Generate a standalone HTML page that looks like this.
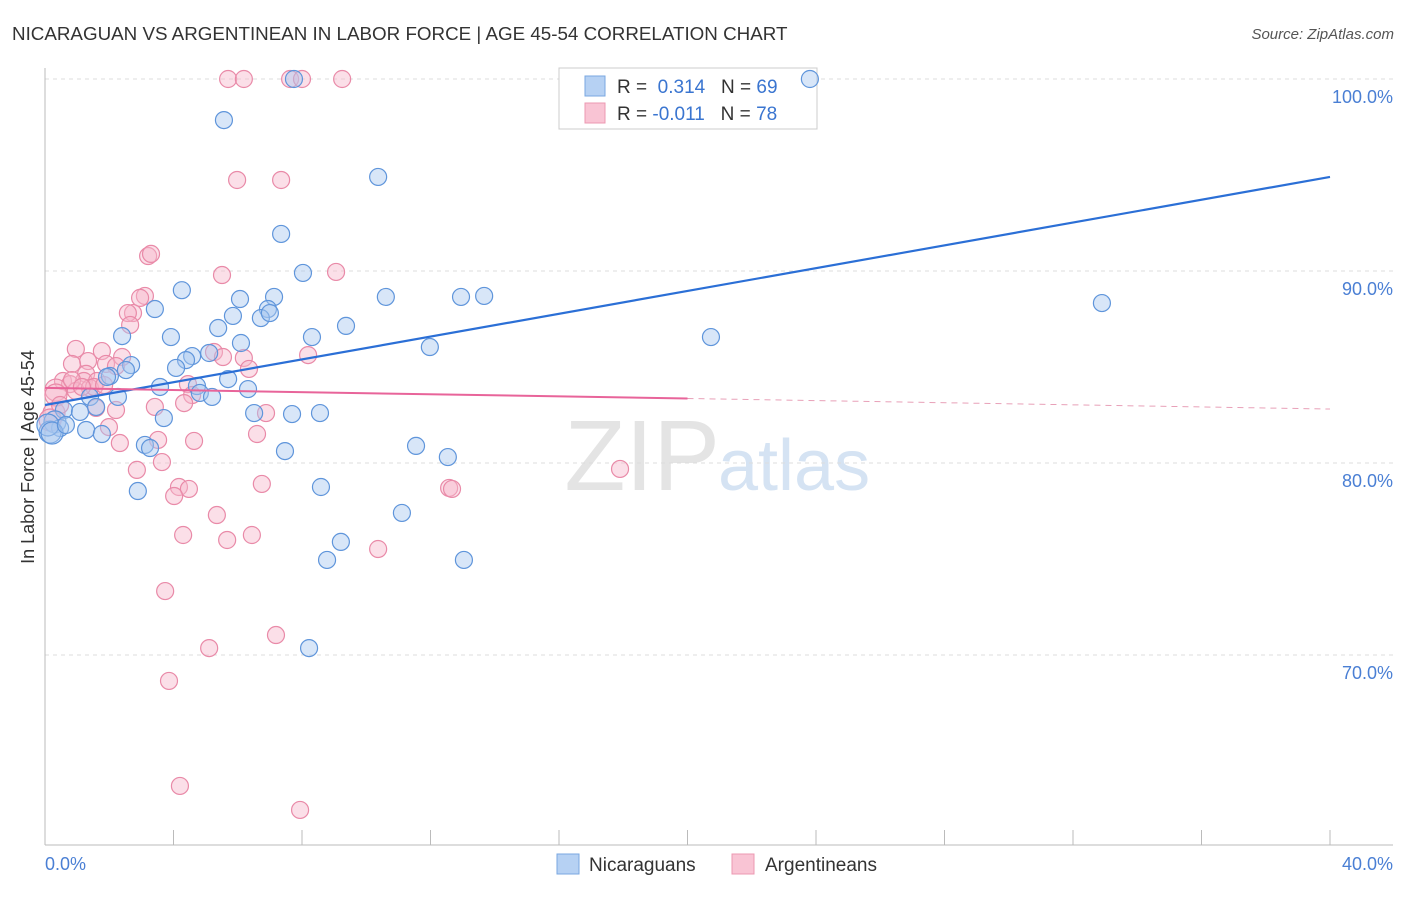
<!DOCTYPE html>
<html><head><meta charset="utf-8"><style>
body{margin:0;background:#fff;font-family:"Liberation Sans",sans-serif}
svg text{font-family:"Liberation Sans",sans-serif}
</style></head><body>
<svg width="1406" height="892">
<text x="12" y="40" font-size="18.8" fill="#333">NICARAGUAN VS ARGENTINEAN IN LABOR FORCE | AGE 45-54 CORRELATION CHART</text>
<text x="1394" y="39" font-size="15" fill="#555" font-style="italic" text-anchor="end">Source: ZipAtlas.com</text>
<text x="720" y="490" font-size="100" fill="#e4e4e4" text-anchor="end" font-family="Liberation Serif">ZIP</text>
<text x="718" y="490" font-size="72" fill="#d5e3f3">atlas</text>
<g id="grid"></g><g id="axes"></g>
<g>
<rect x="559" y="68" width="258" height="61" fill="#fff" stroke="#ccc"/>
<rect x="585" y="76" width="20" height="20" fill="#b6d1f3" stroke="#7aa7e0"/>
<rect x="585" y="103" width="20" height="20" fill="#f9c4d4" stroke="#ec98b2"/>
<text x="617" y="93" font-size="19" fill="#333">R = <tspan fill="#3a75d0">&#160;0.314</tspan>&#160;&#160;&#160;N = <tspan fill="#3a75d0">69</tspan></text>
<text x="617" y="120" font-size="19" fill="#333">R = <tspan fill="#3a75d0">-0.011</tspan>&#160;&#160;&#160;N = <tspan fill="#3a75d0">78</tspan></text>
</g>
<g id="pts"></g><g id="lines"></g>
<text x="34" y="457" font-size="18" fill="#333" text-anchor="middle" transform="rotate(-90 34 457)">In Labor Force | Age 45-54</text>
<text x="45" y="870" font-size="18" fill="#4a7fd4">0.0%</text>
<text x="1393" y="870" font-size="18" fill="#4a7fd4" text-anchor="end">40.0%</text>
<g>
<rect x="557" y="854" width="22" height="20" fill="#b6d1f3" stroke="#7aa7e0"/>
<text x="589" y="871" font-size="19" fill="#333">Nicaraguans</text>
<rect x="732" y="854" width="22" height="20" fill="#f9c4d4" stroke="#ec98b2"/>
<text x="765" y="871" font-size="19" fill="#333">Argentineans</text>
</g>
</svg>
<script>
const yTicks=[100,90,80,70];
const xTicks=[0,4,8,12,16,20,24,28,32,36,40];
const blueX=[23.81,5.57,10.37,7.35,8.03,4.26,6.07,3.42,7.13,6.94,5.85,6.72,7.00,10.61,12.95,13.67,32.9,20.73,9.37,8.31,3.92,5.39,2.40,6.10,11.98,5.11,4.58,4.39,4.08,2.68,2.02,2.52,5.70,4.73,3.58,6.32,4.82,5.20,2.27,1.40,1.59,0.59,1.09,6.51,7.69,8.56,3.70,0.31,0.47,0.16,1.28,1.77,3.11,3.27,7.47,11.55,12.54,2.89,8.59,11.11,9.21,8.78,13.04,8.22,7.75,0.09,0.22,0.65,1.93];
const blueY=[100,97.86,94.9,91.93,89.9,89.0,88.54,88.02,88.65,88.02,87.66,87.55,87.81,88.65,88.65,88.7,88.33,86.56,87.14,86.56,86.56,87.03,86.61,86.25,86.04,85.73,85.57,85.36,84.95,85.1,84.53,84.84,84.37,84.01,83.96,83.85,83.65,83.44,83.44,83.44,82.92,82.76,82.66,82.6,82.55,82.6,82.34,82.14,81.82,81.61,81.72,81.51,80.94,80.78,80.62,80.89,80.31,78.54,78.75,77.4,75.89,74.95,74.95,70.36,100,81.98,81.56,81.98,84.48];
const pinkX=[5.70,6.19,7.63,8.00,9.25,5.98,7.35,3.21,3.30,5.51,9.06,3.11,2.96,2.74,2.58,2.65,0.96,1.77,5.26,6.19,8.19,2.40,1.34,0.84,1.90,1.28,2.21,0.56,1.21,1.62,0.78,0.34,0.96,1.40,1.53,1.84,4.45,4.58,6.35,5.54,4.33,3.42,1.59,2.21,6.88,0.28,6.60,1.99,2.33,3.52,4.64,3.64,2.86,4.17,4.48,4.02,6.75,12.58,12.67,17.9,5.35,4.30,5.67,6.44,10.37,3.74,7.19,5.11,3.86,4.20,7.94,0.34,0.16,0.47,0.84,1.15];
const pinkY=[100,100,100,100,100,94.74,94.74,90.78,90.89,89.79,89.95,88.7,88.6,87.81,87.81,87.19,85.94,85.83,85.78,85.47,85.62,85.52,85.31,85.16,85.16,84.64,85.05,84.27,84.27,84.27,84.11,83.8,83.75,83.91,83.96,84.06,84.11,83.54,84.9,85.52,83.12,82.92,82.87,82.76,82.6,82.6,81.51,81.87,81.04,81.2,81.15,80.05,79.64,78.75,78.65,78.28,78.91,78.7,78.65,79.69,77.29,76.25,75.99,76.25,75.52,73.33,71.04,70.36,68.65,63.18,61.93,83.54,82.24,83.02,84.32,83.96];
const blueTrend=[83.02,94.9];
const pinkTrend=[83.91,82.81];
const NS='http://www.w3.org/2000/svg';
const sx=v=>45+v*1285/40, sy=v=>79+(100-v)*19.2;
function mk(t,a,p){const e=document.createElementNS(NS,t);for(const k in a)e.setAttribute(k,a[k]);p.appendChild(e);return e;}
const grid=document.getElementById('grid'),axes=document.getElementById('axes'),pts=document.getElementById('pts'),lines=document.getElementById('lines');
yTicks.forEach(v=>{
 const l=mk('line',{x1:45,x2:1393,y1:sy(v),y2:sy(v),stroke:'#ddd','stroke-dasharray':'4,4'},grid);
 
 
 const t=mk('text',{x:1393,y:sy(v)+24,'font-size':18,fill:'#4a7fd4','text-anchor':'end'},grid);
 t.textContent=v.toFixed(1)+'%';
 
 
});
const ax=mk('line',{x1:45,x2:45,y1:68,y2:845,stroke:'#bbb'},axes);


const bx=mk('line',{x1:45,x2:1393,y1:845,y2:845,stroke:'#bbb'},axes);


xTicks.forEach(v=>{
 const t=mk('line',{x1:sx(v),x2:sx(v),y1:830,y2:845,stroke:'#bbb'},axes);
 
 
});
function dots(X,Y,fill,stroke,name){
 X.forEach((x,i)=>{
  const r=x<0.4?11:8.5;
  const c=mk('circle',{cx:sx(x),cy:sy(Y[i]),r:r,fill:fill,'fill-opacity':0.45,stroke:stroke,'stroke-width':1.2},pts);
  
  
 });
}
dots(pinkX,pinkY,'#f7b8cb','#e98aa8','argentinean-point');
dots(blueX,blueY,'#a9c8f0','#5f95db','nicaraguan-point');
const bl=mk('line',{x1:sx(0),y1:sy(blueTrend[0]),x2:sx(40),y2:sy(blueTrend[1]),stroke:'#2b6fd6','stroke-width':2.2},lines);


const pm=pinkTrend[0]+(pinkTrend[1]-pinkTrend[0])*0.5;
const pl=mk('line',{x1:sx(0),y1:sy(pinkTrend[0]),x2:sx(20),y2:sy(pm),stroke:'#e8649a','stroke-width':2},lines);


const pd=mk('line',{x1:sx(20),y1:sy(pm),x2:sx(40),y2:sy(pinkTrend[1]),stroke:'#e8a0b8','stroke-width':1,'stroke-dasharray':'6,5'},lines);


</script>
</body></html>
